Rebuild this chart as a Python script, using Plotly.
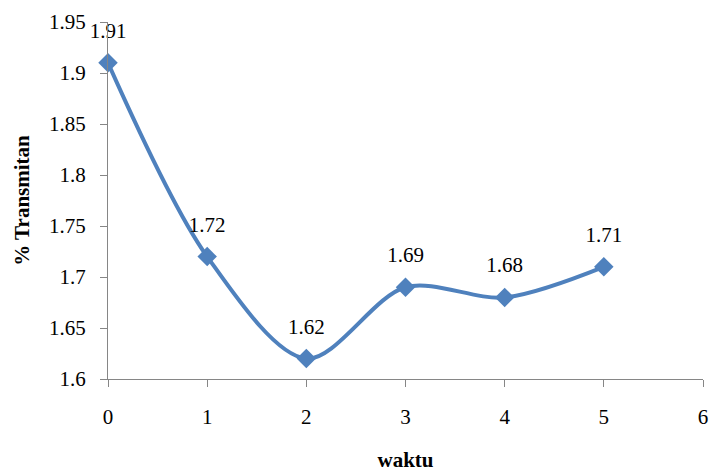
import plotly.graph_objects as go

# Transmittance measured over time
waktu = [0, 1, 2, 3, 4, 5]
transmitan = [1.91, 1.72, 1.62, 1.69, 1.68, 1.71]
labels = ["1.91", "1.72", "1.62", "1.69", "1.68", "1.71"]

x_ticks = [0, 1, 2, 3, 4, 5, 6]
y_ticks = [1.6, 1.65, 1.7, 1.75, 1.8, 1.85, 1.9, 1.95]
y_ticktext = ["1.6", "1.65", "1.7", "1.75", "1.8", "1.85", "1.9", "1.95"]

LINE_COLOR = "#4F81BD"
AXIS_COLOR = "#868686"
FONT = "Liberation Serif"

fig = go.Figure()
# smoothed line with diamond markers
fig.add_trace(go.Scatter(
    x=waktu,
    y=transmitan,
    mode="lines+markers",
    line=dict(color=LINE_COLOR, width=4, shape="spline", smoothing=0.9),
    marker=dict(symbol="diamond", size=15, color=LINE_COLOR),
    cliponaxis=False,
    showlegend=False,
    hoverinfo="x+y",
))
# value labels, lifted above the points by an invisible larger marker
fig.add_trace(go.Scatter(
    x=waktu,
    y=transmitan,
    mode="markers+text",
    marker=dict(size=30, color="rgba(0,0,0,0)"),
    text=labels,
    textposition="top center",
    textfont=dict(family=FONT, size=21, color="black"),
    cliponaxis=False,
    showlegend=False,
    hoverinfo="skip",
))

fig.update_layout(
    width=710,
    height=472,
    margin=dict(l=108, r=7, t=22, b=93),
    paper_bgcolor="white",
    plot_bgcolor="white",
    font=dict(family=FONT, size=21, color="black"),
    xaxis=dict(
        range=[0, 6],
        tickvals=x_ticks,
        showgrid=False,
        zeroline=False,
        showline=True,
        linecolor=AXIS_COLOR,
        linewidth=1,
        ticks="outside",
        ticklen=7,
        tickcolor=AXIS_COLOR,
        ticklabelstandoff=12,
        automargin=False,
        title=dict(text="<b>waktu</b>", font=dict(family=FONT, size=21), standoff=30),
    ),
    yaxis=dict(
        range=[1.6, 1.95],
        tickvals=y_ticks,
        ticktext=y_ticktext,
        showgrid=False,
        zeroline=False,
        showline=True,
        linecolor=AXIS_COLOR,
        linewidth=1,
        ticks="outside",
        ticklen=7,
        tickcolor=AXIS_COLOR,
        ticklabelstandoff=10,
        automargin=False,
        title=dict(text="<b>% Transmitan</b>", font=dict(family=FONT, size=21), standoff=13),
    ),
)

fig.write_html("out.html")
